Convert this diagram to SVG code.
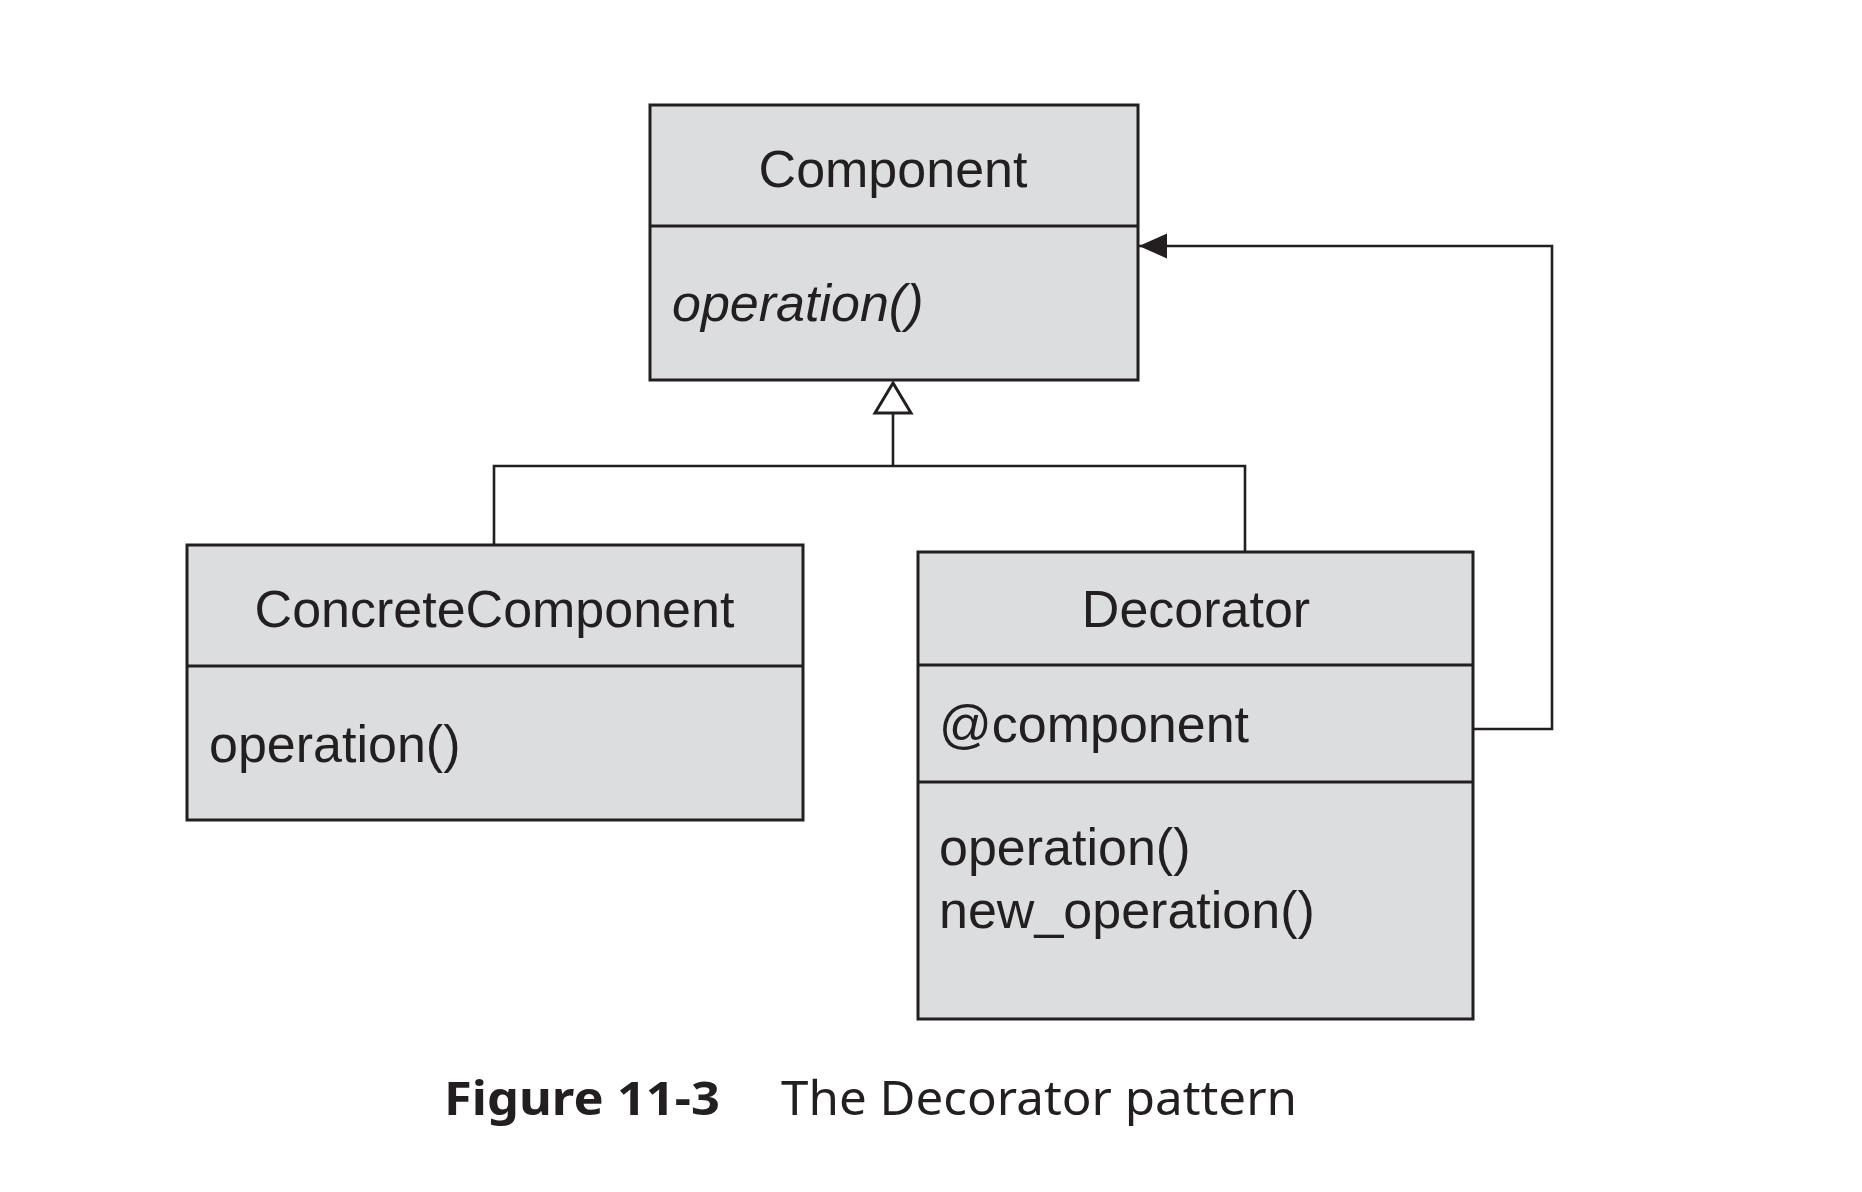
<svg xmlns="http://www.w3.org/2000/svg" width="1862" height="1192" viewBox="0 0 1862 1192">
<style>
.box{fill:#dcdddf;stroke:#231f20;stroke-width:3}
.div{stroke:#231f20;stroke-width:3;fill:none}
.con{stroke:#231f20;stroke-width:2.6;fill:none}
.t{font-family:"Liberation Sans",Arial,sans-serif;font-size:52px;fill:#231f20}
.c{text-anchor:middle}
.i{font-style:italic}
.cap{font-family:"Noto Sans","Open Sans",sans-serif;font-size:47px;fill:#231f20}
</style>
<defs>
<marker id="filled" markerWidth="30" markerHeight="26" refX="28" refY="12.5" orient="auto" markerUnits="userSpaceOnUse">
<path d="M0,0 L28,12.5 L0,25 Z" fill="#231f20"/>
</marker>
</defs>
<rect width="1862" height="1192" fill="#ffffff"/>
<g id="connectors">
<path class="con" d="M893,413 L893,466 M494,545 L494,466 L1245,466 L1245,552"/>
<polygon points="893,383 875,413 911,413" fill="#ffffff" stroke="#231f20" stroke-width="3" stroke-linejoin="miter"/>
<path class="con" d="M1473,729 L1552,729 L1552,246 L1139,246" marker-end="url(#filled)"/>
</g>
<g id="component">
<rect class="box" x="650" y="105" width="488" height="275"/>
<line class="div" x1="650" y1="226" x2="1138" y2="226"/>
<text class="t c" x="893" y="187">Component</text>
<text class="t i" x="672" y="321">operation()</text>
</g>
<g id="concrete-component">
<rect class="box" x="187" y="545" width="616" height="275"/>
<line class="div" x1="187" y1="666" x2="803" y2="666"/>
<text class="t c" x="494.5" y="627">ConcreteComponent</text>
<text class="t" x="209" y="762">operation()</text>
</g>
<g id="decorator">
<rect class="box" x="918" y="552" width="555" height="467"/>
<line class="div" x1="918" y1="665" x2="1473" y2="665"/>
<line class="div" x1="918" y1="782" x2="1473" y2="782"/>
<text class="t c" x="1196" y="627">Decorator</text>
<text class="t" x="939" y="742">@component</text>
<text class="t" x="939" y="865">operation()</text>
<text class="t" x="939" y="928">new_operation()</text>
</g>
<g id="caption">
<text class="cap" x="444" y="1115" font-weight="bold" textLength="276" lengthAdjust="spacingAndGlyphs">Figure 11-3</text>
<text class="cap" x="781" y="1115" textLength="516" lengthAdjust="spacingAndGlyphs">The Decorator pattern</text>
</g>
</svg>
